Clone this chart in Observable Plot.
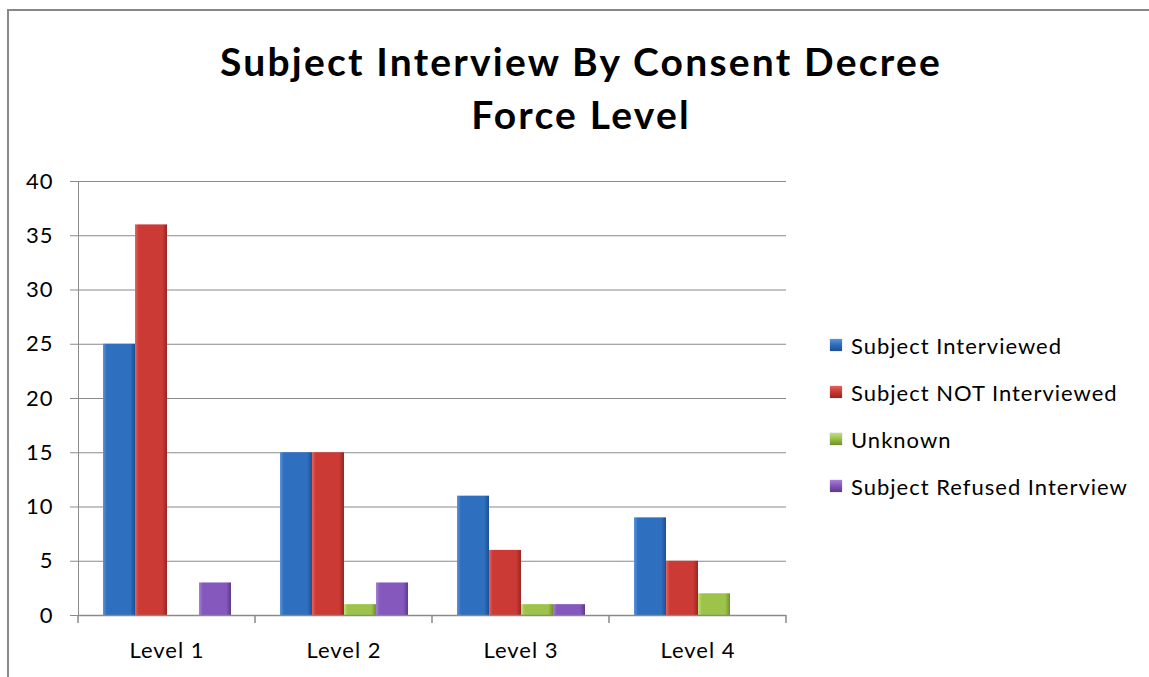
<!DOCTYPE html>
<html>
<head>
<meta charset="utf-8">
<script src="https://cdn.jsdelivr.net/npm/d3@7"></script>
<script src="https://cdn.jsdelivr.net/npm/@observablehq/plot@0.6"></script>
<style>
  html, body { margin: 0; padding: 0; background: #fff; overflow: hidden; }
  #wrap { position: relative; width: 1149px; height: 677px; overflow: hidden; background: #fff; font-family: Lato, "Open Sans", sans-serif; }
  #btop { position: absolute; left: 7px; top: 9px; width: 1142px; height: 2px; background: #888; }
  #bleft { position: absolute; left: 7px; top: 9px; width: 2px; height: 668px; background: #888; }
  #title { position: absolute; left: 0; top: 35px; width: 1162px; text-align: center; font: bold 39px Lato, "Open Sans", sans-serif; letter-spacing: 2.2px; line-height: 53px; color: #000; }
  #chart { position: absolute; left: 0; top: 0; }
  #chart svg { color: #8a8a8a; }
  #chart svg text { fill: #000; letter-spacing: 1px; }
  #legend { position: absolute; left: 830px; top: 333px; font: 22px Lato, "Open Sans", sans-serif; letter-spacing: 1px; color: #000; }
  .item { display: flex; align-items: center; height: 24px; margin-bottom: 23px; white-space: nowrap; }
  .sw { width: 12px; height: 12px; margin-right: 9px; box-shadow: 0 0 1px rgba(0,0,0,0.4); }
</style>
</head>
<body>
<div id="wrap">
  <div id="btop"></div>
  <div id="bleft"></div>
  <div id="chart"></div>
  <div id="title">Subject Interview By Consent Decree<br>Force Level</div>
  <div id="legend"></div>
</div>
<script>
// ---- data ----
const levels = ["Level 1", "Level 2", "Level 3", "Level 4"];
const seriesNames = ["Subject Interviewed", "Subject NOT Interviewed", "Unknown", "Subject Refused Interview"];
const interviewed = [25, 15, 11, 9];
const notInterviewed = [36, 15, 6, 5];
const unknown = [0, 1, 1, 2];
const refused = [3, 3, 1, 0];
const yTicks = [0, 5, 10, 15, 20, 25, 30, 35, 40];

// ---- style ----
const seriesColors = [
  ["#5b93dd", "#2f6fbf", "#1d4f92"],
  ["#e4635e", "#cc3a35", "#972521"],
  ["#c2e07a", "#9dc34a", "#6f902c"],
  ["#a581d6", "#8558bd", "#5b3a8a"]
];

const values = [interviewed, notInterviewed, unknown, refused];
const data = [];
levels.forEach((lv, i) => {
  seriesNames.forEach((s, j) => {
    data.push({level: lv, series: s, value: values[j][i]});
  });
});

const gradIds = seriesNames.map((_, j) => "grad" + j);

const plot = Plot.plot({
  width: 1149,
  height: 677,
  marginLeft: 77,
  marginRight: 362,
  marginTop: 181,
  marginBottom: 62,
  style: {fontFamily: "Lato, 'Open Sans', sans-serif", fontSize: "22px", background: "transparent"},
  facet: {data: data, x: "level"},
  fx: {domain: levels, padding: 0, axis: "bottom", tickSize: 0, tickPadding: 27, label: null},
  x: {domain: seriesNames, paddingInner: 0, paddingOuter: 0.75, axis: null},
  y: {domain: [0, 40], ticks: yTicks, tickSize: 8, tickPadding: 17, label: null, line: true},
  color: {domain: seriesNames, range: gradIds.map(id => `url(#${id})`)},
  marks: [
    Plot.ruleY(yTicks.filter(d => d > 0), {stroke: "#8a8a8a", strokeWidth: 1.2}),
    Plot.barY(data, {x: "series", y: "value", fill: "series"}),
    Plot.ruleY([0], {stroke: "#8a8a8a", strokeWidth: 1.5})
  ]
});

const svg = d3.select(plot.tagName.toLowerCase() === "svg" ? plot : plot.querySelector("svg"));
const defs = svg.insert("defs", ":first-child");
seriesColors.forEach((c, j) => {
  const g = defs.append("linearGradient").attr("id", gradIds[j]).attr("x1", "0").attr("x2", "1").attr("y1", "0").attr("y2", "0");
  g.append("stop").attr("offset", "0").attr("stop-color", c[0]);
  g.append("stop").attr("offset", "0.12").attr("stop-color", c[1]);
  g.append("stop").attr("offset", "0.85").attr("stop-color", c[1]);
  g.append("stop").attr("offset", "1").attr("stop-color", c[2]);
});

// category boundary ticks drawn from Plot's own scales
const fx = plot.scale("fx");
const ys = plot.scale("y");
const y0 = ys.apply(0);
const bounds = [];
levels.forEach(l => { bounds.push(fx.apply(l)); });
bounds.push(fx.apply(levels[levels.length - 1]) + fx.bandwidth);
const tg = svg.append("g").attr("stroke", "#8a8a8a").attr("stroke-width", 1.5);
bounds.forEach(b => {
  tg.append("line").attr("x1", b).attr("x2", b).attr("y1", y0).attr("y2", y0 + 8);
});

document.getElementById("chart").appendChild(plot);

// legend
const legend = d3.select("#legend");
seriesNames.forEach((s, j) => {
  const it = legend.append("div").attr("class", "item");
  it.append("div").attr("class", "sw")
    .style("background", `linear-gradient(to bottom, ${seriesColors[j][0]}, ${seriesColors[j][1]} 45%, ${seriesColors[j][2]})`);
  it.append("span").text(s);
});
</script>
</body>
</html>
